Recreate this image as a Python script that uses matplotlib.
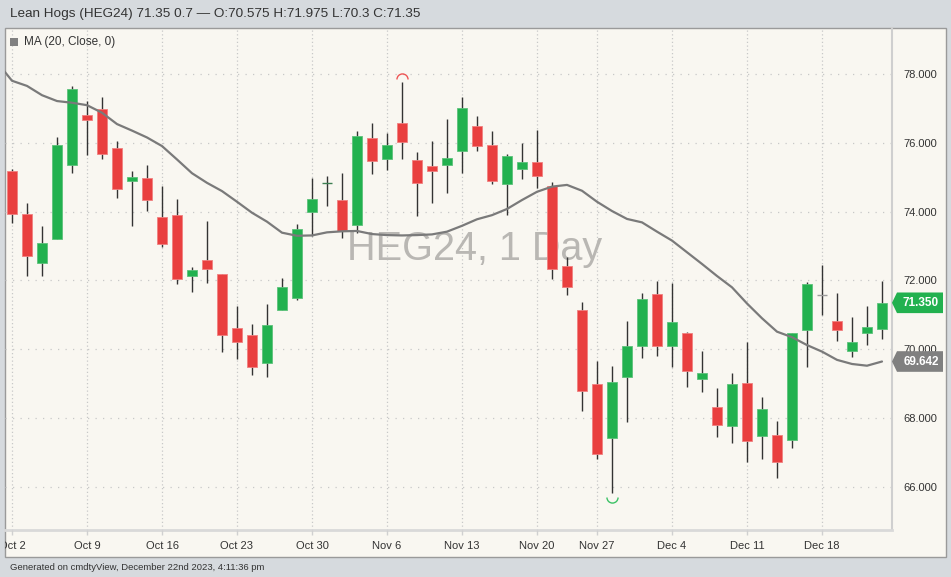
import matplotlib
matplotlib.use("Agg")

import matplotlib.pyplot as plt
import matplotlib.transforms as mtransforms
from matplotlib.path import Path
from matplotlib.patches import Rectangle, Polygon
import numpy as np

BG = "#d6dade"
PANEL = "#f9f7f1"
GREEN = "#22b14f"
RED = "#e93f3f"
WICK = "#333333"
MA_COLOR = "#7a7a7a"
TEXT = "#333333"
GRID = "#c8c8c8"
FONT = "Liberation Sans"

W, H = 951, 577

# daily OHLC, Oct 2 - Dec 22 2023
opens = [75.18, 73.92, 72.50, 73.20, 75.37, 76.81, 76.99, 75.86, 74.89, 74.97,
         73.85, 73.90, 72.12, 72.59, 72.18, 70.62, 70.42, 69.60, 71.13, 71.50,
         73.99, 74.84, 74.34, 73.62, 76.14, 75.54, 76.57, 75.51, 75.34, 75.37,
         75.77, 76.48, 75.93, 74.80, 75.24, 75.44, 74.76, 72.42, 71.14, 68.98,
         67.41, 69.20, 70.10, 71.60, 70.10, 70.47, 69.12, 68.31, 67.77, 69.02,
         67.48, 67.50, 67.36, 70.56, 71.57, 70.82, 69.95, 70.47, 70.575]
highs = [75.23, 74.24, 73.59, 76.16, 77.66, 77.21, 77.34, 76.07, 75.18, 75.36,
         74.75, 74.37, 72.38, 73.72, 72.18, 71.26, 70.72, 71.31, 72.07, 73.64,
         74.99, 75.04, 75.13, 76.35, 76.57, 76.30, 77.76, 75.73, 76.06, 76.69,
         77.34, 76.78, 76.36, 75.68, 75.99, 76.38, 74.87, 72.67, 71.38, 69.66,
         69.52, 70.82, 71.63, 71.99, 71.92, 70.49, 69.95, 68.88, 69.30, 70.22,
         68.62, 67.92, 70.47, 71.96, 72.44, 71.64, 70.93, 71.26, 71.975]
lows = [73.68, 72.14, 72.14, 73.20, 75.12, 75.66, 75.54, 74.39, 73.59, 74.02,
        72.96, 71.90, 71.67, 71.92, 69.93, 69.71, 69.25, 69.18, 71.13, 71.42,
        73.29, 74.17, 73.24, 73.37, 75.09, 75.21, 75.54, 73.87, 74.26, 74.54,
        75.13, 75.77, 74.81, 73.90, 74.94, 74.68, 72.03, 71.58, 68.20, 66.82,
        65.81, 67.87, 69.75, 69.80, 69.49, 68.91, 68.75, 67.44, 67.26, 66.73,
        66.80, 66.24, 67.13, 69.47, 71.00, 70.25, 69.76, 70.12, 70.30]
closes = [73.92, 72.72, 73.09, 75.94, 77.56, 76.66, 75.69, 74.67, 75.02, 74.34,
          73.07, 72.04, 72.29, 72.32, 70.42, 70.20, 69.48, 70.69, 71.82, 73.49,
          74.36, 74.84, 73.43, 76.21, 75.47, 75.93, 76.02, 74.84, 75.19, 75.56,
          77.01, 75.91, 74.89, 75.61, 75.44, 75.05, 72.32, 71.82, 68.78, 66.94,
          69.04, 70.09, 71.47, 70.10, 70.79, 69.36, 69.30, 67.79, 68.98, 67.34,
          68.25, 66.73, 70.47, 71.90, 71.57, 70.55, 70.22, 70.65, 71.35]

# 20-day moving average as drawn (first value is the day before Oct 2)
ma_values = [78.35,
             77.81, 77.66, 77.39, 77.22, 77.17, 77.10, 76.88, 76.55, 76.36, 76.16,
             75.91, 75.52, 75.12, 74.84, 74.60, 74.29, 73.97, 73.71, 73.39, 73.30,
             73.31, 73.40, 73.43, 73.44, 73.35, 73.32, 73.31, 73.32, 73.34, 73.42,
             73.59, 73.78, 73.90, 74.08, 74.34, 74.58, 74.73, 74.78, 74.61, 74.29,
             74.02, 73.79, 73.69, 73.42, 73.16, 72.82, 72.48, 72.13, 71.80, 71.33,
             70.90, 70.51, 70.35, 70.12, 69.93, 69.69, 69.57, 69.52, 69.642]

tick_idx = [0, 5, 10, 15, 20, 25, 30, 35, 39, 44, 49, 54]
tick_labels = ["Oct 2", "Oct 9", "Oct 16", "Oct 23", "Oct 30", "Nov 6",
               "Nov 13", "Nov 20", "Nov 27", "Dec 4", "Dec 11", "Dec 18"]
price_ticks = [66, 68, 70, 72, 74, 76, 78]


def fig_rect(x0, y0, x1, y1):
    """pixel box (top-left origin) -> figure fraction [l, b, w, h]"""
    return [x0 / W, 1 - y1 / H, (x1 - x0) / W, (y1 - y0) / H]


def main():
    o = np.array(opens)
    h = np.array(highs)
    l = np.array(lows)
    c = np.array(closes)
    idx = np.arange(len(c))
    ma = np.array(ma_values)
    ma_x = np.arange(-1, len(c))

    fig = plt.figure(figsize=(W / 100, H / 100), dpi=100, facecolor=BG)

    # panel background + border, kept behind the axes
    fig.patches.append(Rectangle((4.5 / W, 1 - 557 / H), 941 / W, 529 / H,
                                 transform=fig.transFigure, facecolor=PANEL,
                                 edgecolor="#9a9a9a", linewidth=1.0, zorder=-5))

    xlim = (-7 / 15, 880 / 15)
    ylim = (64.74, 79.345)

    ax = fig.add_axes(fig_rect(5, 28, 892, 530))
    ax.set_facecolor("none")
    ax.set_xlim(*xlim)
    ax.set_ylim(*ylim)

    # grid
    for y in price_ticks:
        ax.axhline(y, color=GRID, lw=0.9, ls=(0, (1, 5)), zorder=0)
    for t in tick_idx:
        ax.axvline(t, color=GRID, lw=0.9, ls=(0, (1, 2)), zorder=0)

    # watermark
    ax.text(0.53, 0.538, "HEG24, 1 Day", transform=ax.transAxes,
            ha="center", va="baseline", fontsize=28.5, family=FONT,
            color="#b9b7b3", zorder=1)

    # candles
    up = c >= o
    doji = np.abs(c - o) < 1e-9
    ax.vlines(idx, l, h, color=WICK, lw=1.0, zorder=2)
    body_w = 0.66
    bottoms = np.minimum(o, c)
    heights = np.abs(c - o)
    colors = np.where(up, GREEN, RED)
    edges = np.where(up, "#5cc27a", "#f08080")
    ax.bar(idx[~doji], heights[~doji], bottom=bottoms[~doji], width=body_w,
           color=colors[~doji], edgecolor=edges[~doji], linewidth=0.6, zorder=3)
    prev_c = np.concatenate([[c[0]], c[:-1]])
    doji_col = np.where(c > prev_c, "#3d7f52", "#9a9a9a")
    for i in idx[doji]:
        ax.hlines(c[i], i - body_w / 2, i + body_w / 2, color=doji_col[i],
                  lw=1.0, zorder=3)

    # moving average
    ax.plot(ma_x, ma, color=MA_COLOR, lw=1.6, zorder=4, solid_capstyle="round")

    # high / low markers
    top = Path.arc(0, 180)
    bot = Path.arc(180, 360)
    hi_i = int(np.argmax(h))
    lo_i = int(np.argmin(l))
    up_off = mtransforms.offset_copy(ax.transData, fig=fig, y=2.5, units="points")
    dn_off = mtransforms.offset_copy(ax.transData, fig=fig, y=-2.5, units="points")
    ax.plot([hi_i], [h[hi_i]], marker=top, ms=8, mfc="none", mec="#ee5555",
            mew=1.0, transform=up_off, zorder=5, clip_on=False)
    ax.plot([lo_i], [l[lo_i]], marker=bot, ms=8, mfc="none", mec="#3cc266",
            mew=1.0, transform=dn_off, zorder=5, clip_on=False)

    # axes styling
    for s in ["top", "left", "bottom"]:
        ax.spines[s].set_visible(False)
    ax.spines["right"].set_color("#cfcfcf")
    ax.spines["right"].set_linewidth(1.5)
    ax.yaxis.tick_right()
    ax.set_yticks(price_ticks)
    ax.set_yticklabels([f"{v:.3f}" for v in price_ticks], family=FONT,
                       fontsize=8, color=TEXT)
    ax.tick_params(axis="y", length=0, pad=8)
    ax.set_xticks([])

    # x label strip
    ax_x = fig.add_axes(fig_rect(5, 530, 892, 557))
    ax_x.set_facecolor("none")
    ax_x.set_xlim(*xlim)
    ax_x.set_ylim(0, 1)
    ax_x.axis("off")
    ax_x.axhline(1.0, color="#d9d9d9", lw=2.0, clip_on=False)
    ax_x.vlines(tick_idx, 0.8, 1.0, color="#d0d0d0", lw=1.0)
    for t, lab in zip(tick_idx, tick_labels):
        ax_x.text(t, 0.42, lab, ha="center", va="center", family=FONT,
                  fontsize=8, color=TEXT, clip_on=True)

    # price tags on the right column
    ax_p = fig.add_axes(fig_rect(892, 28, 946, 530))
    ax_p.set_facecolor("none")
    ax_p.set_xlim(0, 54)
    ax_p.set_ylim(*ylim)
    ax_p.axis("off")
    half = 0.3
    for val, col in [(c[-1], GREEN), (ma[-1], "#808080")]:
        ax_p.add_patch(Polygon([[0, val], [5, val + half], [51, val + half],
                                [51, val - half], [5, val - half]],
                               closed=True, facecolor=col, edgecolor="none"))
        ax_p.text(29, val, f"{val:.3f}", ha="center", va="center",
                  family=FONT, fontsize=8.5, fontweight="bold", color="white")

    # header, legend, footer
    fig.text(10 / W, 1 - 14 / H,
             "Lean Hogs (HEG24) 71.35 0.7 \u2014 O:70.575 H:71.975 L:70.3 C:71.35",
             family=FONT, fontsize=9.7, color=TEXT, va="center")
    fig.patches.append(Rectangle((10 / W, 1 - 46 / H), 8 / W, 8 / H,
                                 transform=fig.transFigure, facecolor="#808080",
                                 edgecolor="none"))
    fig.text(24 / W, 1 - 42 / H, "MA (20, Close, 0)", family=FONT,
             fontsize=8.5, color=TEXT, va="center")
    fig.text(10 / W, 1 - 567 / H,
             "Generated on cmdtyView, December 22nd 2023, 4:11:36 pm",
             family=FONT, fontsize=6.8, color=TEXT, va="center")

    fig.savefig("out.png", dpi=100, facecolor=BG)
    plt.close(fig)


if __name__ == "__main__":
    main()
